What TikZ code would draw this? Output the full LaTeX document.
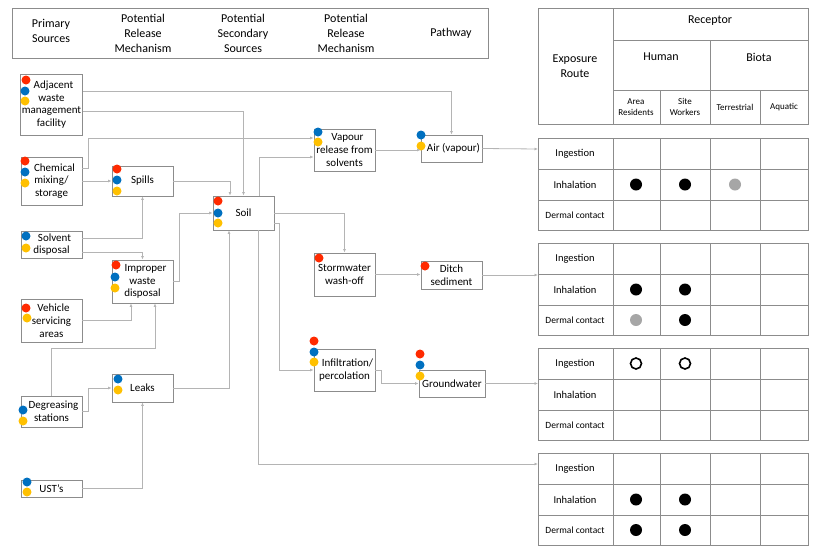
\documentclass[tikz,border=0pt]{standalone}
\usepackage{fontspec}
\setmainfont{Carlito}
\usetikzlibrary{arrows.meta,calc}
\definecolor{dred}{HTML}{FF2A00}
\definecolor{dblue}{HTML}{0070C0}
\definecolor{dyel}{HTML}{FFC000}
\definecolor{bord}{HTML}{8C8C8C}
\definecolor{conn}{HTML}{B4B4B4}
\tikzset{
 box/.style={draw=bord,line width=0.9pt,align=center,inner sep=1pt,font=\fontsize{11}{12.8}\selectfont},
 arr/.style={draw=conn,line width=0.8pt,-{Latex[length=3.5pt,width=3pt]},color=conn},
 rd/.style={fill=dred,circle,inner sep=0pt,minimum size=9pt},
 bd/.style={fill=dblue,circle,inner sep=0pt,minimum size=9pt},
 yd/.style={fill=dyel,circle,inner sep=0pt,minimum size=9pt},
 tline/.style={draw=bord,line width=0.9pt},
 ttext/.style={font=\fontsize{10.5}{12}\selectfont,align=center},
 stext/.style={font=\fontsize{9}{11}\selectfont,align=center},
 htext/.style={font=\fontsize{12}{15}\selectfont,align=center},
 blk/.style={fill=black,circle,inner sep=0pt,minimum size=12pt},
 gry/.style={fill=black!35,circle,inner sep=0pt,minimum size=12pt},
 opn/.style={draw=black,line width=1.6pt,circle,inner sep=0pt,minimum size=11pt},
}
\begin{document}
\begin{tikzpicture}[x=1pt,y=-1pt]
\useasboundingbox (0,0) rectangle (820,552);
% header
\draw[tline] (12,8) rectangle (488,58);
\node[htext] (h1) at (51,31) {Primary\\Sources};
\node[htext] (h2) at (143,33) {Potential\\Release\\Mechanism};
\node[htext] (h3) at (243,33) {Potential\\Secondary\\Sources};
\node[htext] (h4) at (346,33) {Potential\\Release\\Mechanism};
\node[htext] (h5) at (451,33) {Pathway};
% receptor table
\draw[tline] (538,8) rectangle (808,124);
\draw[tline] (613,40) -- (808,40) (613,90) -- (808,90) (613,8) -- (613,124)
 (710,40) -- (710,124) (660,90) -- (660,124) (760,90) -- (760,124);
\node[htext] (rc) at (710,21) {Receptor};
\node[htext] (er) at (575,66) {Exposure\\Route};
\node[htext] (hu) at (661,57) {Human};
\node[htext] (bi) at (759,57) {Biota};
\node[stext] (ar) at (636,107) {Area\\Residents};
\node[stext] (sw) at (685,107) {Site\\Workers};
\node[stext] (te) at (735,107) {Terrestrial};
\node[stext] (aq) at (784,107) {Aquatic};
% exposure tables
\foreach \t/\y in {1/138,2/243,3/348,4/453}{
 \draw[tline] (538,\y) rectangle (808,\y+92);
 \draw[tline] (538,\y+31) -- (808,\y+31) (538,\y+62) -- (808,\y+62)
  (613,\y) -- (613,\y+92) (660,\y) -- (660,\y+92) (710,\y) -- (710,\y+92) (760,\y) -- (760,\y+92);
 \node[ttext] (ing\t) at (575,\y+15.5) {Ingestion};
 \node[ttext] (inh\t) at (575,\y+46.5) {Inhalation};
 \node[font=\fontsize{9.5}{11}\selectfont] (der\t) at (575,\y+77) {Dermal contact};
 \coordinate (t\t) at (538,\y+11);
}
\node[blk] (s1) at (636,184.5) {}; \node[blk] (s2) at (685,184.5) {}; \node[gry] (s3) at (735,184.5) {};
\node[blk] (s4) at (636,289.5) {}; \node[blk] (s5) at (685,289.5) {};
\node[gry] (s6) at (636,320) {}; \node[blk] (s7) at (685,320) {};
\node[opn] (s8) at (636,363.5) {}; \node[opn] (s9) at (685,363.5) {};
\node[blk] (s10) at (636,499.5) {}; \node[blk] (s11) at (685,499.5) {};
\node[blk] (s12) at (636,530) {}; \node[blk] (s13) at (685,530) {};
% nodes
\node[box,minimum width=61pt,minimum height=61pt] (adj) at (51.5,104.5) {\hspace{4pt}Adjacent\\waste\\management\\facility};
\node[box,minimum width=61pt,minimum height=48pt] (chem) at (51.5,181) {\hspace{6pt}Chemical\\mixing/\\storage};
\node[box,minimum width=61pt,minimum height=27pt] (solv) at (51.5,244.5) {\hspace{6pt}Solvent\\disposal};
\node[box,minimum width=61pt,minimum height=43pt] (veh) at (51.5,320.5) {\hspace{4pt}Vehicle\\servicing\\areas};
\node[box,minimum width=61pt,minimum height=31pt] (deg) at (51.5,411.5) {\hspace{4pt}Degreasing\\stations};
\node[box,minimum width=61pt,minimum height=17pt] (ust) at (51.5,488.5) {UST's};
\node[box,minimum width=61pt,minimum height=30pt] (spills) at (142.5,181) {Spills};
\node[box,minimum width=61pt,minimum height=43pt] (imp) at (142.5,281.5) {\hspace{6pt}Improper\\waste\\disposal};
\node[box,minimum width=61pt,minimum height=28pt] (leaks) at (142.5,388) {Leaks};
\node[box,minimum width=61pt,minimum height=34pt] (soil) at (243.5,213) {Soil};
\node[box,minimum width=61pt,minimum height=42pt] (vap) at (344.5,150) {\hspace{6pt}Vapour\\release from\\solvents};
\node[box,minimum width=61pt,minimum height=27pt] (air) at (451.5,148.5) {\hspace{4pt}Air (vapour)};
\node[box,minimum width=61pt,minimum height=43pt] (storm) at (344.5,274.5) {Stormwater\\wash-off};
\node[box,minimum width=61pt,minimum height=28pt] (ditch) at (451.5,275) {Ditch\\sediment};
\node[box,minimum width=61pt,minimum height=42pt] (inf) at (344.5,370) {\hspace{6pt}Infiltration/\\percolation};
\node[box,minimum width=66pt,minimum height=27pt] (gw) at (452,383.5) {Groundwater};
% dots
\node[rd] (d1) at (26,80) {}; \node[bd] (d2) at (25,91) {}; \node[yd] (d3) at (25,101) {};
\node[rd] (d4) at (25,161) {}; \node[bd] (d5) at (25,172) {}; \node[yd] (d6) at (25,183) {};
\node[rd] (d7) at (117,169) {}; \node[bd] (d8) at (117,180) {}; \node[yd] (d9) at (117,191) {};
\node[bd] (d10) at (26,236) {}; \node[yd] (d11) at (26,248) {};
\node[rd] (d12) at (116,265) {}; \node[bd] (d13) at (115,277) {}; \node[yd] (d14) at (115,288) {};
\node[rd] (d15) at (26,308) {}; \node[yd] (d16) at (27,318) {};
\node[bd] (d17) at (23,410) {}; \node[yd] (d18) at (23,421) {};
\node[bd] (d19) at (27,482) {}; \node[yd] (d20) at (27,492) {};
\node[bd] (d21) at (118,379) {}; \node[yd] (d22) at (118,390) {};
\node[rd] (d23) at (218,201) {}; \node[bd] (d24) at (218,213) {}; \node[yd] (d25) at (218,223) {};
\node[bd] (d26) at (318,132) {}; \node[yd] (d27) at (318,142) {};
\node[bd] (d28) at (421,135) {}; \node[yd] (d29) at (421,146) {};
\node[rd] (d30) at (319,258) {};
\node[rd] (d31) at (425,266) {};
\node[rd] (d32) at (314,341) {}; \node[bd] (d33) at (314,352) {}; \node[yd] (d34) at (314,362) {};
\node[rd] (d35) at (420,354) {}; \node[bd] (d36) at (420,365) {}; \node[yd] (d37) at (420,376) {};
% connectors
\draw[arr] ([yshift=13.5pt]adj.east) -| (air.north);
\draw[arr] ([yshift=-6.5pt]adj.east) -| (soil.north);
\draw[arr] ([yshift=13pt]chem.east) -- ++(6,0) |- ([yshift=12pt]vap.west);
\draw[arr] (chem.east) -- (spills.west);
\draw[arr] (spills.east) -| ([xshift=-13.5pt]soil.north);
\draw[arr] ([yshift=6.5pt]solv.east) -| (spills.south);
\draw[arr] ([yshift=-7.5pt]solv.east) -| (imp.north);
\draw[arr] (imp.east) -- ++(6,0) |- (soil.west);
\draw[arr] (veh.east) -| ([xshift=-11.5pt]imp.south);
\draw[arr] (deg.north) -- ++(0,-47) -| ([xshift=12.5pt]imp.south);
\draw[arr] (deg.east) -- ++(6,0) |- (leaks.west);
\draw[arr] (ust.east) -| (leaks.south);
\draw[arr] (leaks.east) -| ([xshift=-14.5pt]soil.south);
\draw[arr] ([xshift=15.5pt]soil.north) |- ([yshift=-7pt]vap.west);
\draw[arr] (soil.east) -| (storm.north);
\draw[arr] ([yshift=-10pt]soil.east) -- ++(5,0) |- (inf.west);
\draw[arr] ([xshift=14.5pt]soil.south) |- (t4);
\draw[arr] (vap.east) -- (vap.east -| air.west);
\draw[arr] (air.east) -- (t1);
\draw[arr] (storm.east) -- (storm.east -| ditch.west);
\draw[arr] (ditch.east) -- (ditch.east -| t2);
\draw[arr] (inf.east) -- ++(6,0) |- (gw.west);
\draw[arr] (gw.east) -- (gw.east -| t3);
\end{tikzpicture}
\end{document}
